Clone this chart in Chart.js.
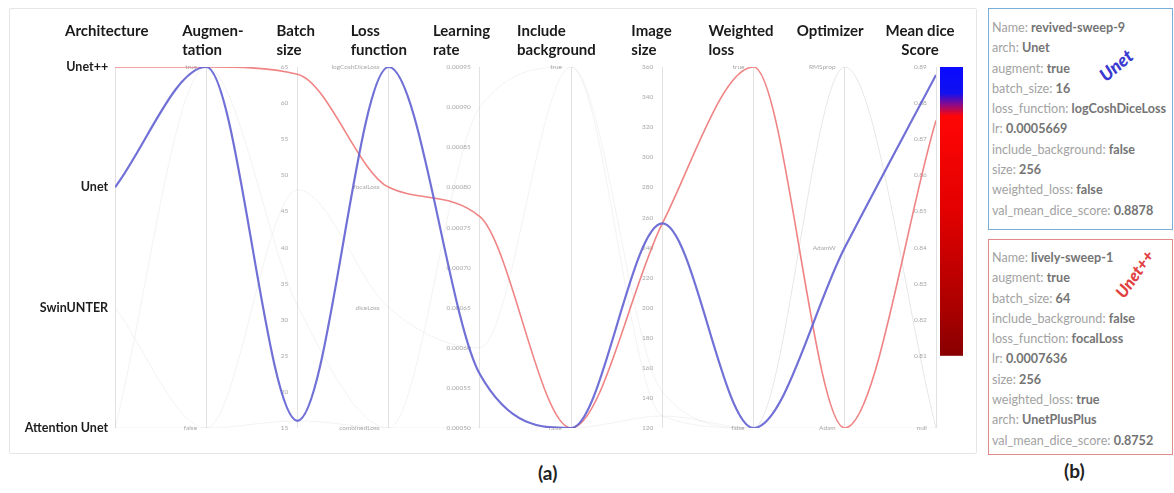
<!DOCTYPE html>
<html><head><meta charset="utf-8">
<script src="https://cdn.jsdelivr.net/npm/chart.js@4"></script>
<style>
html,body{margin:0;padding:0;background:#fff}
body{width:1174px;height:493px;position:relative;overflow:hidden;font-family:Lato,"Open Sans",sans-serif}
#frame{position:absolute;left:9px;top:8px;width:968px;height:446px;border:1px solid #e6e6e6;border-radius:2px;box-sizing:border-box}
#wrap{position:absolute;left:0;top:0;width:980px;height:460px}
.box{position:absolute;left:988px;width:185px;height:222px;box-sizing:border-box;font-size:12.6px;line-height:20.3px;white-space:nowrap;overflow:hidden}
.box .k{color:#a2a2a2}
.box .v{color:#747474;font-weight:700}
#box1{top:8px;border:1.5px solid #7aaed6;padding:9px 0 0 3px}
#box2{top:239px;height:216px;border:1.5px solid #e08a8a;padding:8px 0 0 3px}
.tag{position:absolute;font-weight:900;font-style:italic}
.cap{position:absolute;font-weight:700;font-size:19px;color:#222}
</style></head>
<body>
<div id="frame"></div>
<div id="wrap"><canvas id="c"></canvas></div>
<div id="box1" class="box"></div>
<div id="box2" class="box"></div>
<div class="tag" style="left:1097px;top:54px;color:#3a3ad0;font-size:18px;transform:rotate(-40deg)">Unet</div>
<div class="tag" style="left:1108px;top:264px;color:#e04040;font-size:16.5px;transform:rotate(-55deg)">Unet++</div>
<div class="cap" style="left:538px;top:461px">(a)</div>
<div class="cap" style="left:1064px;top:459px">(b)</div>
<script>
// ---------- data ----------
const titleLines = [['Architecture'],['Augmen-','tation'],['Batch','size'],['Loss','function'],['Learning','rate'],['Include','background'],['Image','size'],['Weighted','loss'],['Optimizer'],['Mean dice','Score']];
const archCategories = ['Unet++','Unet','SwinUNTER','Attention Unet'];
const augmentCategories = ['true','false'];
const lossCategories = ['logCoshDiceLoss','focalLoss','diceLoss','combinedLoss'];
const includeBgCategories = ['true','false'];
const weightedCategories = ['true','false'];
const optimizerCategories = ['RMSprop','AdamW','Adam'];
const batchTicks = [15,20,25,30,35,40,45,50,55,60,65];
const lrTicks = [0.0005,0.00055,0.0006,0.00065,0.0007,0.00075,0.0008,0.00085,0.0009,0.00095];
const sizeTicks = [120,140,160,180,200,220,240,260,280,300,320,340,360];
const diceTicks = [0.81,0.82,0.83,0.84,0.85,0.86,0.87,0.88,0.89];
const diceNullValue = 0.79;

const unetRun   = ['Unet','true',16,'logCoshDiceLoss',0.0005669,'false',256,'false','AdamW',0.8878];
const unetPPRun = ['Unet++','true',64,'focalLoss',0.0007636,'false',256,'true','Adam',0.8752];
const otherRun1 = ['Attention Unet','true',32,'combinedLoss',0.0009,'true',128,'false','RMSprop',null];
const otherRun2 = ['SwinUNTER','false',48,'diceLoss',0.0006,'true',144,'false','RMSprop',null];
const otherRun3 = ['Attention Unet','false',16,'combinedLoss',0.0005,'false',128,'false','Adam',null];

const unetInfoKeys = ['Name','arch','augment','batch_size','loss_function','lr','include_background','size','weighted_loss','val_mean_dice_score'];
const unetInfoValues = ['revived-sweep-9','Unet','true','16','logCoshDiceLoss','0.0005669','false','256','false','0.8878'];
const unetPPInfoKeys = ['Name','augment','batch_size','include_background','loss_function','lr','size','weighted_loss','arch','val_mean_dice_score'];
const unetPPInfoValues = ['lively-sweep-1','true','64','false','focalLoss','0.0007636','256','true','UnetPlusPlus','0.8752'];

// ---------- info boxes ----------
function fillBox(id, keys, vals){
  document.getElementById(id).innerHTML = keys.map((k,i)=>'<div><span class="k">'+k+': </span><span class="v">'+vals[i]+'</span></div>').join('');
}
fillBox('box1', unetInfoKeys, unetInfoValues);
fillBox('box2', unetPPInfoKeys, unetPPInfoValues);

// ---------- axes ----------
const axisSpecs = [
  {cats: archCategories},
  {cats: augmentCategories},
  {min: 15, max: 65, ticks: batchTicks, fmt: v => String(v)},
  {cats: lossCategories},
  {min: 0.0005, max: 0.00095, ticks: lrTicks, fmt: v => v.toFixed(5)},
  {cats: includeBgCategories},
  {min: 120, max: 360, ticks: sizeTicks, fmt: v => String(v)},
  {cats: weightedCategories},
  {cats: optimizerCategories},
  {min: diceNullValue, max: 0.89, ticks: [diceNullValue].concat(diceTicks), fmt: v => Math.abs(v - diceNullValue) < 1e-9 ? 'null' : v.toFixed(2)}
];
const titleDx = [-50,-24,-21,-38,-47,-54,-31,-45,-48,-16];
const titleAlign = ['left','left','left','left','left','left','left','left','left','center'];
const labelGap = 0.1;   // gap between tick labels and axis line, in x-axis units

function norm(spec, v){
  if (spec.cats) { return 1 - spec.cats.indexOf(v) / (spec.cats.length - 1); }
  if (v === null) return 0;
  return (v - spec.min) / (spec.max - spec.min);
}
function toPoints(run){ return run.map((v,i)=>({x:i, y:norm(axisSpecs[i], v)})); }

const scales = {
  x: {type:'linear', min:0, max:axisSpecs.length-1, display:true,
      afterBuildTicks: a => { a.ticks = axisSpecs.map((s,i)=>({value:i})); },
      grid:{color:'#e2e2e2', lineWidth:1, drawTicks:false},
      border:{display:false}, ticks:{display:false}},
  yn: {type:'linear', axis:'y', min:0, max:1, display:false}
};
axisSpecs.forEach((s,i)=>{
  const sc = {
    type:'linear', axis:'y', position:{x: i - labelGap},
    grid:{display:false, drawOnChartArea:false, drawTicks:false},
    border:{display:false},
    ticks:{font:{size:6.5, family:'Lato'}, color:'#a8a8a8', padding:0, autoSkip:false}
  };
  if (s.cats) {
    sc.min = 0; sc.max = s.cats.length - 1; sc.reverse = true;
    sc.afterBuildTicks = a => { a.ticks = s.cats.map((c,k)=>({value:k})); };
    sc.ticks.callback = v => s.cats[Math.round(v)];
  } else {
    sc.min = s.min; sc.max = s.max;
    sc.afterBuildTicks = a => { a.ticks = s.ticks.map(v=>({value:v})); };
    sc.ticks.callback = v => s.fmt(v);
  }
  if (i === 0) { sc.position = {x: -0.075}; sc.ticks.font = {size:12.5, weight:'bold', family:'Lato'}; sc.ticks.color = '#1e1e1e'; }
  scales['y'+i] = sc;
});

const titlePlugin = {
  id:'titles',
  afterDraw(chart){
    const ctx = chart.ctx, xs = chart.scales.x;
    ctx.save();
    ctx.fillStyle = '#1a1a1a';
    ctx.font = 'bold 15px Lato';
    ctx.textBaseline = 'middle';
    titleLines.forEach((lines,i)=>{
      const x = xs.getPixelForValue(i) + titleDx[i];
      ctx.textAlign = titleAlign[i];
      lines.forEach((t,k)=> ctx.fillText(t, x, 31 + k*19));
    });
    ctx.restore();
  }
};
const colorbarPlugin = {
  id:'colorbar',
  afterDatasetsDraw(chart){
    const ctx = chart.ctx, ys = chart.scales.y9, xs = chart.scales.x;
    const x0 = xs.getPixelForValue(9) + 4, w = 23;
    const top = ys.getPixelForValue(diceTicks[diceTicks.length-1]);
    const bot = ys.getPixelForValue(diceTicks[0]);
    const g = ctx.createLinearGradient(0, top, 0, bot);
    g.addColorStop(0, '#0a0aff');
    g.addColorStop(0.09, '#1010f0');
    g.addColorStop(0.13, '#8a0a8a');
    g.addColorStop(0.17, '#ff0606');
    g.addColorStop(0.5, '#e20000');
    g.addColorStop(0.85, '#a80000');
    g.addColorStop(1, '#880000');
    ctx.save();
    ctx.fillStyle = g;
    ctx.fillRect(x0, top, w, bot - top);
    ctx.restore();
  }
};

const mk = (run, color, width) => ({data: toPoints(run), borderColor: color, borderWidth: width, xAxisID:'x', yAxisID:'yn', pointRadius:0, cubicInterpolationMode:'monotone', fill:false});

new Chart(document.getElementById('c'), {
  type:'line',
  data:{datasets:[
    mk(unetRun, 'rgba(100,100,212,0.92)', 2.2),
    mk(unetPPRun, 'rgba(238,118,118,0.9)', 1.6),
    mk(otherRun1, 'rgba(0,0,0,0.05)', 1),
    mk(otherRun2, 'rgba(0,0,0,0.05)', 1),
    mk(otherRun3, 'rgba(0,0,0,0.05)', 1)
  ]},
  options:{
    responsive:true, maintainAspectRatio:false, animation:false, devicePixelRatio:1,
    layout:{padding:{left:115, right:44, top:67, bottom:32}},
    plugins:{legend:{display:false}, tooltip:{enabled:false}},
    scales
  },
  plugins:[titlePlugin, colorbarPlugin]
});
</script>
</body></html>
